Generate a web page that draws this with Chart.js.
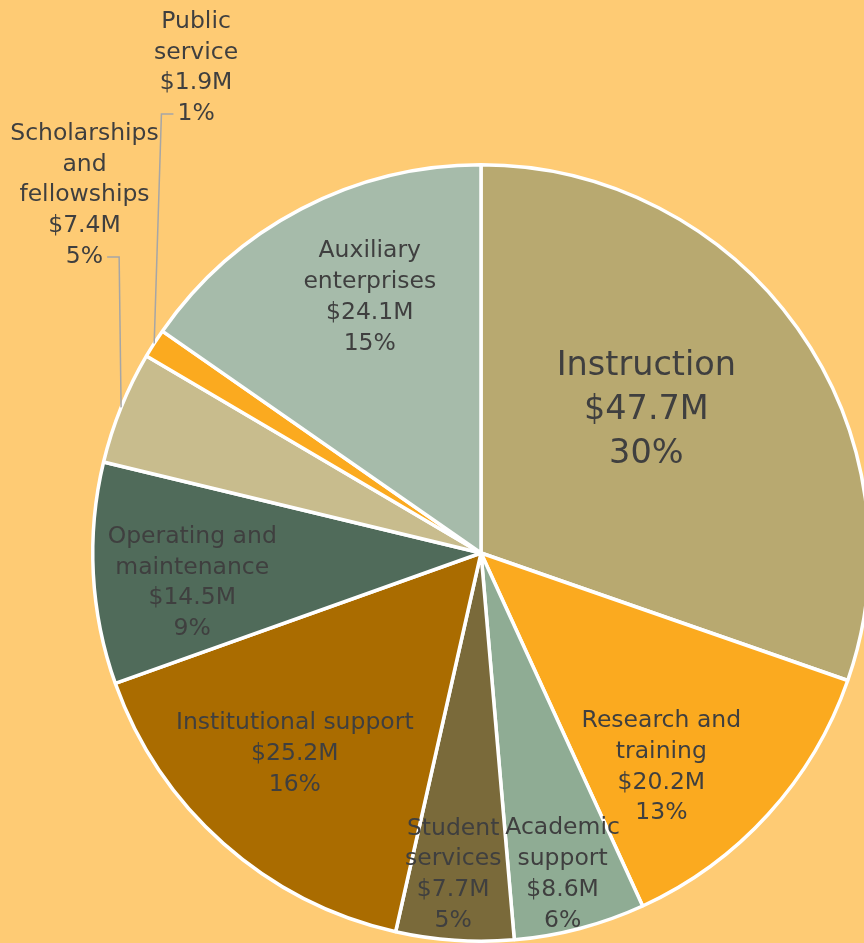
<!DOCTYPE html>
<html>
<head>
<meta charset="utf-8">
<script src="https://cdn.jsdelivr.net/npm/chart.js@4.4.1/dist/chart.umd.min.js"></script>
<style>
    html, body { margin: 0; padding: 0; background: #FECB74; overflow: hidden; }
    #wrap { position: relative; width: 880px; height: 943px; }
</style>
</head>
<body>
<div id="wrap"><canvas id="pie" width="880" height="943"></canvas></div>
<script>
// Spending by function (millions of dollars)
const categories = [
    'Instruction', 'Research and training', 'Academic support', 'Student services',
    'Institutional support', 'Operating and maintenance', 'Scholarships and fellowships',
    'Public service', 'Auxiliary enterprises'
];
const amounts = [47.7, 20.2, 8.6, 7.7, 25.2, 14.5, 7.4, 1.9, 24.1];
const percentLabels = ['30%', '13%', '6%', '5%', '16%', '9%', '5%', '1%', '15%'];
const labelLines = [
    ['Instruction'], ['Research and', 'training'], ['Academic', 'support'], ['Student', 'services'],
    ['Institutional support'], ['Operating and', 'maintenance'], ['Scholarships', 'and', 'fellowships'],
    ['Public', 'service'], ['Auxiliary', 'enterprises']
];
const sliceColors = ['#B8A970', '#FBAA1F', '#8FAC94', '#7A6A3A', '#AA6C00', '#506B5A', '#C8BC8D', '#FBAA1F', '#A6BBAA'];

// label placement: r = fraction of radius, da = angle shift (deg), dy = nudge, out = leader line
const labelPlacement = [
    { r: 0.567, da: -5.9, dy: 3, size: 33.5, lh: 44 },
    { r: 0.715, da: 7.2, dy: 3 },
    { r: 0.847, da: 0.4, dy: 3 },
    { r: 0.824, da: 1.1, dy: 3 },
    { r: 0.70, da: 1.7, dy: 3 },
    { r: 0.747, da: -2.3, dy: 3 },
    { r: 1.377, da: 20.1, dy: 1, out: true },
    { r: 1.449, da: 26.9, dy: 0, out: true },
    { r: 0.725, da: 4.3, dy: 3 }
];

const pieLabels = {
    id: 'pieLabels',
    afterDatasetsDraw(chart) {
        const ctx = chart.ctx;
        const meta = chart.getDatasetMeta(0);
        meta.data.forEach((arc, i) => {
            const { x, y, startAngle, endAngle, outerRadius } = arc.getProps(['x', 'y', 'startAngle', 'endAngle', 'outerRadius'], true);
            const p = labelPlacement[i];
            const mid = (startAngle + endAngle) / 2;
            const a = mid + p.da * Math.PI / 180;
            const cx = x + Math.cos(a) * outerRadius * p.r;
            const cy = y + Math.sin(a) * outerRadius * p.r + (p.dy || 0);
            const size = p.size || 23.5;
            const lh = p.lh || 30.8;
            const lines = [...labelLines[i], '$' + amounts[i].toFixed(1) + 'M', percentLabels[i]];
            ctx.save();
            ctx.font = `${size}px "DejaVu Sans"`;
            ctx.fillStyle = '#3F3F3F';
            ctx.textAlign = 'center';
            ctx.textBaseline = 'middle';
            const top = cy - (lines.length - 1) * lh / 2;
            lines.forEach((t, k) => ctx.fillText(t, cx, top + k * lh));
            if (p.out) {
                const lastY = top + (lines.length - 1) * lh;
                const w = ctx.measureText(percentLabels[i]).width;
                const ex = x + Math.cos(mid) * outerRadius;
                const ey = y + Math.sin(mid) * outerRadius;
                const sx = i === 6 ? cx + w / 2 + 4 : cx - w / 2 - 4;
                const kx = i === 6 ? sx + 12 : sx - 12;
                ctx.strokeStyle = '#A6A6A6';
                ctx.lineWidth = 1.5;
                ctx.beginPath();
                ctx.moveTo(sx, lastY);
                ctx.lineTo(kx, lastY);
                ctx.lineTo(ex, ey);
                ctx.stroke();
            }
            ctx.restore();
        });
    }
};

new Chart(document.getElementById('pie'), {
    type: 'pie',
    data: {
        labels: categories,
        datasets: [{
            data: amounts,
            backgroundColor: sliceColors,
            borderColor: '#FFFFFF',
            borderWidth: 3.5
        }]
    },
    options: {
        responsive: false,
        animation: false,
        layout: { padding: { left: 91, right: 9, top: 163, bottom: 0 } },
        plugins: {
            legend: { display: false },
            tooltip: { enabled: false }
        }
    },
    plugins: [pieLabels]
});
</script>
</body>
</html>
